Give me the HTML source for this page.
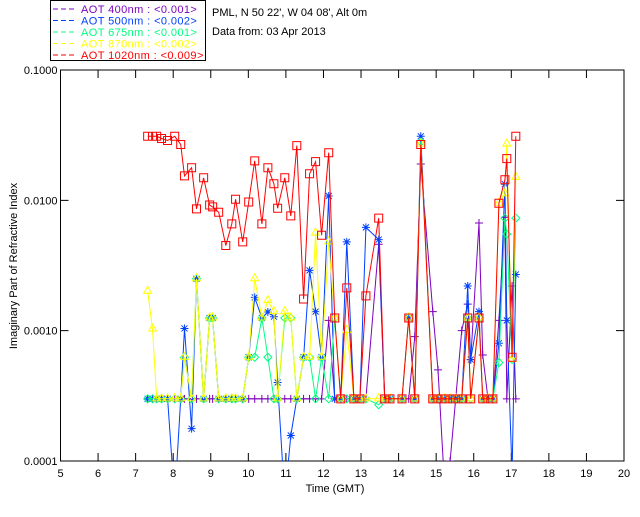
<!DOCTYPE html>
<html><head><meta charset="utf-8"><style>
body{margin:0;background:#fff;width:640px;height:512px;overflow:hidden;font-family:"Liberation Sans",sans-serif;}
svg text{font-family:"Liberation Sans",sans-serif;font-size:11px;}
</style></head><body>
<svg id="chart" width="640" height="512" viewBox="0 0 640 512" xmlns="http://www.w3.org/2000/svg">
<g id="legend">
<rect x="50.5" y="0.5" width="155" height="60" fill="#fff" stroke="#000"/>
</g>
<text x="212" y="16">PML, N 50 22', W 04 08', Alt 0m</text>
<text x="212" y="35">Data from: 03 Apr 2013</text>
<defs><clipPath id="pc"><rect x="60" y="70" width="566" height="391"/></clipPath></defs>
<g id="axes"></g>
<g id="series" clip-path="url(#pc)"></g>
<text x="335" y="492" text-anchor="middle">Time (GMT)</text>
<text transform="translate(17,266) rotate(-90)" text-anchor="middle">Imaginary Part of Refractive Index</text>
</svg>
<script>
const times=[7.32,7.45,7.56,7.69,7.85,8.04,8.20,8.30,8.49,8.62,8.81,8.97,9.05,9.21,9.40,9.56,9.66,9.85,10.01,10.17,10.36,10.52,10.68,10.78,10.97,11.13,11.29,11.47,11.63,11.79,11.95,12.14,12.30,12.46,12.62,12.81,12.97,13.13,13.47,13.63,13.77,14.09,14.27,14.43,14.59,14.91,15.05,15.23,15.37,15.52,15.68,15.84,15.92,16.14,16.24,16.38,16.51,16.67,16.83,16.88,17.02,17.12];
const aot1020=[.031,.031,.031,.0298,.0288,.031,.0268,.0154,.0178,.0086,.0149,.0092,.0089,.0081,.0045,.0066,.0102,.0048,.0097,.0201,.0066,.0178,.0134,.0087,.0149,.0076,.0263,.00175,.016,.0198,.0054,.0232,.00125,.0003,.00213,.0003,.0003,.00185,.0073,.0003,.0003,.0003,.00125,.0003,.0268,.0003,.0003,.0003,.0003,.0003,.0003,.00125,.0003,.00125,.0003,.0003,.0003,.0095,.0144,.0209,.000625,.031];
const aot500=[.0003,.0003,.0003,.0003,.0003,.00005,.0003,.00104,.000177,.0025,.0003,.00125,.00125,.0003,.0003,.0003,.0003,.0003,.000625,.0018,.00125,.00139,.00128,.0004,.00005,.000157,.0003,.000625,.0029,.0014,.000625,.0108,.0003,.0003,.0048,.0003,.0003,.0062,.005,.0003,.0003,.0003,.00125,.0003,.031,.0003,.0003,.0003,.0003,.0003,.0003,.0022,.0006,.0014,.0003,.0003,.0003,.0008,.0133,.0012,.00008,.0027];
const aot870=[.002,.00103,.0003,.0003,.0003,.0003,.0003,.000625,.0003,.0025,.0003,.00125,.00125,.0003,.0003,.0003,.0003,.0003,.000625,.0025,.00125,.0017,.0014,.0003,.0014,.00125,.0003,.000625,.000625,.0056,.000625,.0048,.00125,.0003,.001,.0003,.0003,.0003,.0003,.0003,.0003,.0003,.00125,.0003,.027,.0003,.0003,.0003,.0003,.0003,.0003,.00125,.0003,.00125,.0003,.0003,.0003,.0095,.0112,.027,.0006,.015];
const aot675=[.0003,.0003,.0003,.0003,.0003,.0003,.0003,.000625,.0003,.0025,.0003,.00125,.00125,.0003,.0003,.0003,.0003,.0003,.000625,.000625,.00125,.000625,.0003,.0003,.00125,.00125,.0003,.000625,.000625,.0003,.000625,.0003,.00125,.0003,.0003,.0003,.0003,.0003,.00027,.0003,.0003,.0003,.00125,.0003,.028,.0003,.0003,.0003,.0003,.0003,.0003,.00125,.0003,.00125,.0003,.0003,.0003,.00057,.0073,.0055,.0006,.0073];
const aot400=[.0003,.0003,.0003,.0003,.0003,.0003,.0003,.0003,.0003,.0003,.0003,.0003,.0003,.0003,.0003,.0003,.0003,.0003,.0003,.0003,.0003,.0003,.0003,.0003,.0003,.0003,.0003,.0003,.0003,.0003,.0003,.0012,.0003,.0003,.0003,.0003,.0003,.0003,.0046,.0003,.0003,.0003,.0003,.0009,.019,.0014,.0005,.00006,.0001,.0003,.001,.0016,.0006,.0067,.00065,.0003,.0003,.0012,.0074,.0003,.0022,.0003];
const xTicks=[5,6,7,8,9,10,11,12,13,14,15,16,17,18,19,20];
const yTicks=[0.1,0.01,0.001,0.0001];
const yTickLabels=["0.1000","0.0100","0.0010","0.0001"];
const legendLabels=["AOT  400nm : <0.001>","AOT  500nm : <0.002>","AOT  675nm : <0.001>","AOT  870nm : <0.002>","AOT 1020nm : <0.009>"];

const NS="http://www.w3.org/2000/svg";
const X0=60.5,X1=624,Y0=461,Y1=70;
const xs=t=>X0+(t-5)/15*(X1-X0);
const ys=v=>Y0-(Math.log10(v)+4)/3*(Y0-Y1);
function mk(tag,attrs,parent){const e=document.createElementNS(NS,tag);for(const k in attrs)e.setAttribute(k,attrs[k]);parent.appendChild(e);return e;}
const axes=document.getElementById('axes');
const box=mk('rect',{x:X0,y:Y1,width:X1-X0,height:Y0-Y1,fill:'none',stroke:'#000','stroke-width':1},axes);


xTicks.forEach(t=>{
  const p=mk('path',{d:`M${xs(t)},${Y0}v-8M${xs(t)},${Y1}v8`,stroke:'#000'},axes);
  
  
  const tx=mk('text',{x:xs(t),y:Y0+16,'text-anchor':'middle'},axes);tx.textContent=t;
  
  
});
yTicks.forEach((v,i)=>{
  const p=mk('path',{d:`M${X0},${ys(v)}h8M${X1},${ys(v)}h-8`,stroke:'#000'},axes);
  
  
  const tx=mk('text',{x:X0-3,y:ys(v)+4,'text-anchor':'end'},axes);tx.textContent=yTickLabels[i];
  
  
});
const series=[
 {name:'aot-400',vals:aot400,c:'#7f00bf',m:'plus'},
 {name:'aot-500',vals:aot500,c:'#0040ff',m:'star'},
 {name:'aot-675',vals:aot675,c:'#00ff80',m:'diamond'},
 {name:'aot-870',vals:aot870,c:'#ffff00',m:'tri'},
 {name:'aot-1020',vals:aot1020,c:'#ff0000',m:'square'}];
const sg=document.getElementById('series');
const lg=document.getElementById('legend');
function marker(m,x,y){
  if(m==='plus')return `M${x-4},${y}h8M${x},${y-4}v8`;
  if(m==='star')return `M${x-4},${y}h8M${x},${y-4}v8M${x-3},${y-3}l6,6M${x-3},${y+3}l6,-6`;
  if(m==='diamond')return `M${x},${y-4}l4,4l-4,4l-4,-4z`;
  if(m==='tri')return `M${x},${y-5}l4,7h-8z`;
  return `M${x-4},${y-4}h8v8h-8z`;
}
series.forEach((s,si)=>{
  const g=mk('g',{},sg);
  
  
  const pts=times.map((t,i)=>`${xs(t).toFixed(1)},${ys(s.vals[i]).toFixed(1)}`).join(' ');
  const l=mk('polyline',{points:pts,fill:'none',stroke:s.c,'stroke-width':1},g);
  
  
  let d='';times.forEach((t,i)=>{d+=marker(s.m,xs(t),ys(s.vals[i]));});
  const mp=mk('path',{d:d,fill:'none',stroke:s.c,'stroke-width':1},g);
  
  
  const y=9+si*11.5;
  const ll=mk('path',{d:`M53,${y}h24`,stroke:s.c,'stroke-dasharray':'5,3'},lg);
  
  
  const lt=mk('text',{x:81,y:y+4,fill:s.c,'xml:space':'preserve','letter-spacing':'0.4'},lg);lt.textContent=legendLabels[si];
  
  
});
</script>
</body></html>
